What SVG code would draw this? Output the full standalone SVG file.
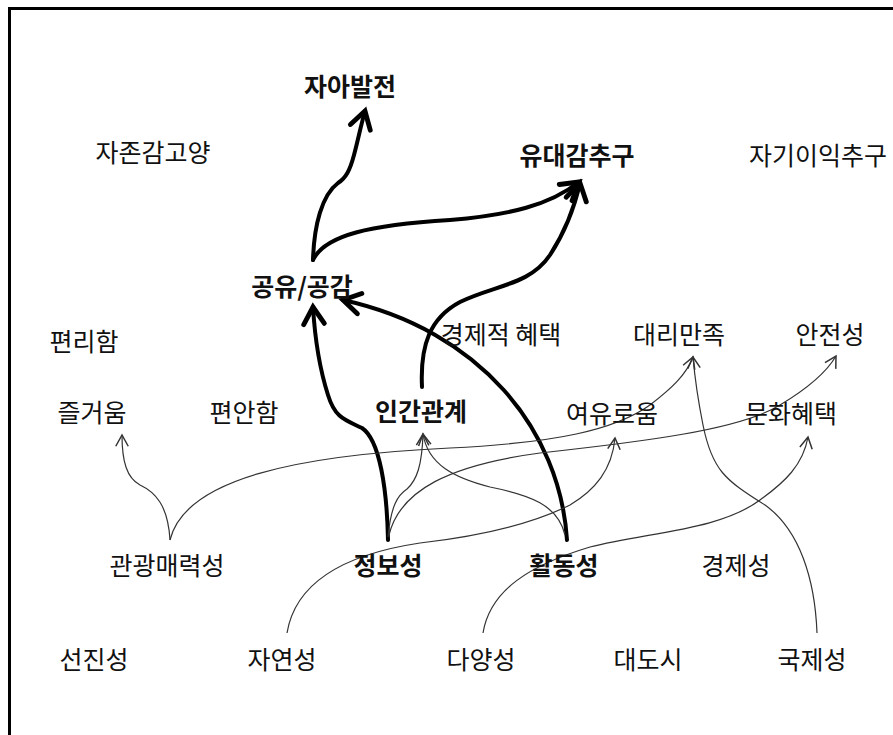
<svg xmlns="http://www.w3.org/2000/svg" width="893" height="735" viewBox="0 0 893 735">
<style>
text{font-family:"Noto Sans CJK KR","Noto Sans",sans-serif;font-size:25px;fill:#111;text-anchor:middle}
.b{font-weight:bold}
.thick{fill:none;stroke:#000;stroke-width:4;stroke-linecap:round;marker-end:url(#ahT)}
.thin{fill:none;stroke:#333;stroke-width:1.2;marker-end:url(#ah)}
</style>
<defs>
<marker id="ahT" markerUnits="userSpaceOnUse" markerWidth="34" markerHeight="34" viewBox="-18 -14 24 28" refX="0" refY="0" orient="auto"><path d="M-14,-8.5 L0,0 L-14,8.5" fill="none" stroke="#000" stroke-width="4" stroke-linecap="round"/></marker>
<marker id="ah" markerUnits="userSpaceOnUse" markerWidth="20" markerHeight="20" viewBox="-12 -8 16 16" refX="0" refY="0" orient="auto"><path d="M-9,-5 L0,0 L-9,5" fill="none" stroke="#333" stroke-width="1.2"/></marker>
</defs>
<rect x="0" y="0" width="893" height="735" fill="#fff"/>
<rect x="9.5" y="8.5" width="920" height="800" fill="none" stroke="#000" stroke-width="3"/>
<g id="connectors">
<path class="thick" d="M313,260 C314,225 322,195 338,183 C346,178 350,170 354,155 C358,140 361,125 365,111"/>
<path class="thick" d="M313,260 C325,235 370,225 450,220 C510,215 550,205 579,182"/>
<path class="thick" d="M422,387 C420,345 430,318 460,302 C495,285 530,285 550,255 C565,232 575,205 580,183"/>
<path class="thick" d="M388,540 C387,490 380,440 362,428 C345,420 335,418 328,395 C320,370 315,340 313,307"/>
<path class="thick" d="M567,540 C560,430 480,330 343,300"/>
<path class="thin" d="M170,540 C168,505 155,492 140,485 C127,478 122,462 122,435"/>
<path class="thin" d="M170,540 C185,478 300,455 450,448 C555,443 615,430 650,405 C672,388 686,375 693,357"/>
<path class="thin" d="M817,633 C815,580 800,530 765,505 C725,480 712,470 703,425 C698,400 695,380 693,357"/>
<path class="thin" d="M388,537 C391,505 398,495 407,489 C417,480 422,465 423,434"/>
<path class="thin" d="M389,535 C400,490 450,465 540,453 C640,442 740,430 780,405 C805,390 825,375 836,356"/>
<path class="thin" d="M565,535 C558,505 530,495 490,487 C455,478 428,465 423,434"/>
<path class="thin" d="M287,633 C295,585 340,555 420,543 C490,535 540,520 570,505 C595,490 612,470 615,438"/>
<path class="thin" d="M483,633 C490,590 530,565 590,547 C650,532 720,530 760,500 C785,482 803,465 808,437"/>
</g>
<g id="n-jaabaljeon"><text class="b" x="350" y="96">자아발전</text></g>
<g id="n-jajongam"><text x="153" y="162">자존감고양</text></g>
<g id="n-yudaegam"><text class="b" x="577" y="165">유대감추구</text></g>
<g id="n-jagiiik"><text x="818" y="165">자기이익추구</text></g>
<g id="n-gongyu"><text class="b" x="302" y="296">공유/공감</text></g>
<g id="n-pyeonriham"><text x="84" y="351">편리함</text></g>
<g id="n-gyeongjejeok"><text x="501" y="344">경제적 혜택</text></g>
<g id="n-daeri"><text x="679" y="344">대리만족</text></g>
<g id="n-anjeon"><text x="830" y="344">안전성</text></g>
<g id="n-jeulgeoum"><text x="92" y="422">즐거움</text></g>
<g id="n-pyeonan"><text x="244" y="422">편안함</text></g>
<g id="n-ingan"><text class="b" x="421" y="421">인간관계</text></g>
<g id="n-yeoyu"><text x="612" y="423">여유로움</text></g>
<g id="n-munhwa"><text x="791" y="423">문화혜택</text></g>
<g id="n-gwangwang"><text x="167" y="575">관광매력성</text></g>
<g id="n-jeongbo"><text class="b" x="388" y="575">정보성</text></g>
<g id="n-hwaldong"><text class="b" x="564" y="575">활동성</text></g>
<g id="n-gyeongje"><text x="736" y="575">경제성</text></g>
<g id="n-seonjin"><text x="94" y="669">선진성</text></g>
<g id="n-jayeon"><text x="282" y="669">자연성</text></g>
<g id="n-dayang"><text x="481" y="669">다양성</text></g>
<g id="n-daedosi"><text x="648" y="669">대도시</text></g>
<g id="n-gukje"><text x="812" y="669">국제성</text></g>
</svg>
